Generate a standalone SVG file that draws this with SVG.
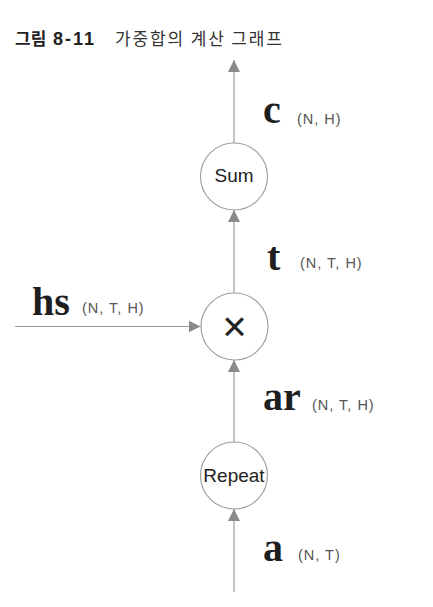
<svg xmlns="http://www.w3.org/2000/svg" width="433" height="607" viewBox="0 0 433 607">
<style>
.bg{fill:#ffffff}
.node{fill:#ffffff;stroke:#a0a0a0;stroke-width:1.2}
.ntext{font-family:"Liberation Sans",Arial,sans-serif;font-size:19px;fill:#222;text-anchor:middle}
.var{font-family:"Liberation Serif","Times New Roman",serif;font-weight:bold;font-size:40px;fill:#1e1e1e}
.dim{font-family:"Liberation Sans",Arial,sans-serif;font-size:14.5px;fill:#555;letter-spacing:1px}
.edge{stroke:#9c9c9c;stroke-width:1.2;fill:none;marker-end:url(#ah)}
.t1{font-family:"Liberation Sans","Noto Sans CJK KR",sans-serif;font-weight:bold;font-size:17px;fill:#222}
.t2{font-family:"Noto Sans CJK KR",sans-serif;font-size:17px;fill:#333}
</style>
<defs>
<marker id="ah" markerUnits="userSpaceOnUse" markerWidth="12" markerHeight="12" refX="12" refY="6" orient="auto">
<path d="M0,0 L12,6 L0,12 z" fill="#8a8a8a"/>
</marker>
</defs>
<rect class="bg" x="0" y="0" width="433" height="607"/>
<g id="title">
<text class="t1" y="45"><tspan x="15">그림</tspan><tspan x="53" style="font-size:18px;letter-spacing:2px">8-11</tspan></text>
<text class="t2" x="115" y="45" textLength="167">가중합의 계산 그래프</text>
</g>
<g id="connectors">
<line class="edge" x1="234" y1="143" x2="234" y2="60"/>
<line class="edge" x1="234" y1="293" x2="234" y2="210"/>
<line class="edge" x1="15" y1="326.5" x2="200.5" y2="326.5"/>
<line class="edge" x1="234" y1="442" x2="234" y2="360"/>
<line class="edge" x1="234" y1="592" x2="234" y2="509"/>
</g>
<g id="sum">
<circle class="node" cx="234" cy="176.5" r="33.5"/>
<text class="ntext" x="234" y="182">Sum</text>
</g>
<g id="mul">
<circle class="node" cx="234.5" cy="326.5" r="33.5"/>
<text x="234.5" y="341" style="font-family:'Liberation Sans',Arial,sans-serif;font-size:42px;fill:#222;text-anchor:middle">×</text>
</g>
<g id="repeat">
<circle class="node" cx="234" cy="475.5" r="33.5"/>
<text class="ntext" x="234" y="482">Repeat</text>
</g>
<g id="labels">
<text class="var" x="263" y="123">c</text>
<text class="dim" x="297" y="124">(N, H)</text>
<text class="var" x="267" y="270">t</text>
<text class="dim" x="300" y="268">(N, T, H)</text>
<text class="var" x="32" y="315">hs</text>
<text class="dim" x="82" y="313">(N, T, H)</text>
<text class="var" x="263" y="410">ar</text>
<text class="dim" x="312" y="410">(N, T, H)</text>
<text class="var" x="263" y="561">a</text>
<text class="dim" x="298" y="560">(N, T)</text>
</g>
</svg>
